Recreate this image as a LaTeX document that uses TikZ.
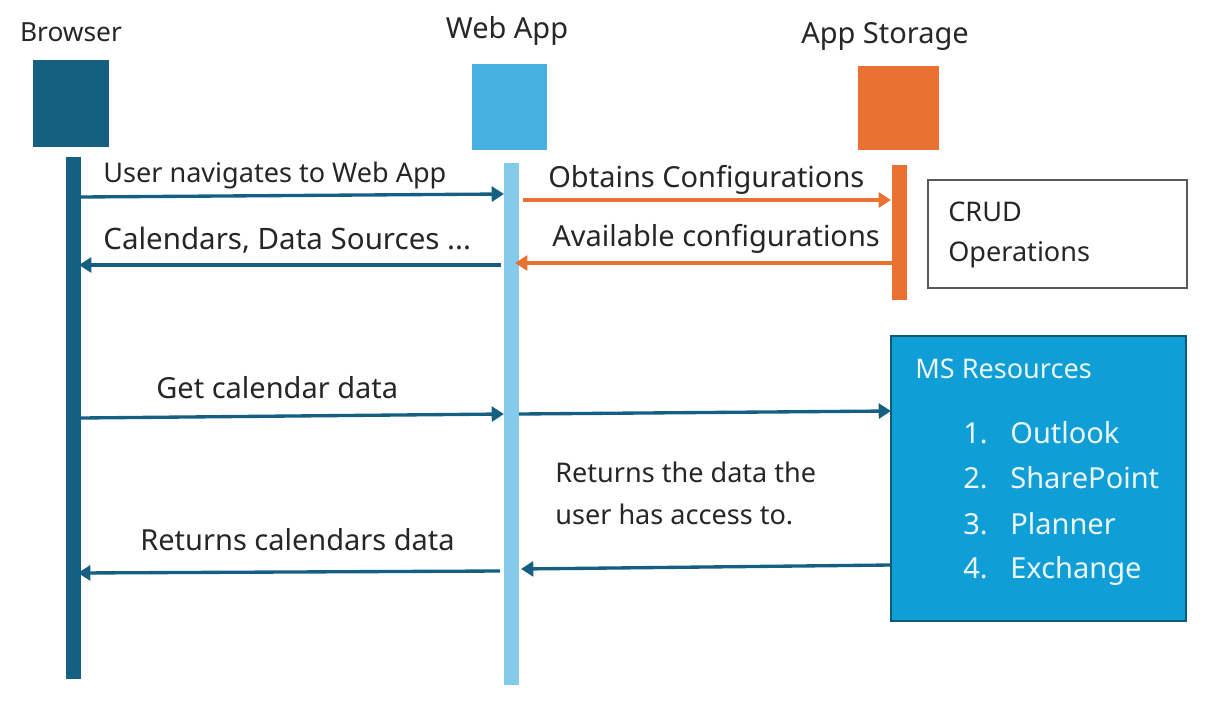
\documentclass[tikz,border=0pt]{standalone}
\usepackage{fontspec}
\setmainfont{Noto Sans}
\usepackage{tikz}
\usetikzlibrary{arrows.meta}
\definecolor{browserblue}{HTML}{156082}
\definecolor{webblue}{HTML}{45B0E1}
\definecolor{webbar}{HTML}{83CAEB}
\definecolor{storeorange}{HTML}{E97132}
\definecolor{msblue}{HTML}{0F9ED5}
\definecolor{msline}{HTML}{0B5A78}
\tikzset{
  head node/.style={draw=none, inner sep=0pt},
  bar node/.style={draw=none, inner sep=0pt, minimum width=0.3cm},
  label node/.style={inner sep=0pt, font=\fontsize{15.4}{18}\selectfont, text=black!85},
  big label/.style={label node, font=\fontsize{16.5}{19}\selectfont},
  ms node/.style={inner sep=0pt, font=\fontsize{16.5}{19}\selectfont, text=white!92!msblue, anchor=base west},
  blue arrow/.style={-{Triangle[length=7pt,width=8.5pt]}, line width=1.9pt, draw=browserblue},
  orange arrow/.style={-{Triangle[length=7pt,width=8.5pt]}, line width=2.1pt, draw=storeorange}
}
\begin{document}
\begin{tikzpicture}[x=0.02cm, y=-0.02cm]
  \useasboundingbox (0, 0) rectangle (1224, 710);
  % heads
  \node[head node, fill=browserblue, minimum width=1.52cm, minimum height=1.74cm] (browser) at (71, 103.5) {};
  \node[head node, fill=webblue, minimum width=1.5cm, minimum height=1.72cm] (webapp) at (509.5, 107) {};
  \node[head node, fill=storeorange, minimum width=1.62cm, minimum height=1.68cm] (storage) at (898.5, 108) {};
  \node[label node, font=\fontsize{15}{18}\selectfont] (browsertxt) at (71, 32) {Browser};
  \node[big label] (webtxt) at (507, 31) {Web App};
  \node[big label] (storagetxt) at (885, 36) {App Storage};
  % bars
  \node[bar node, fill=browserblue, minimum height=10.44cm] (browserbar) at (73.5, 418) {};
  \node[bar node, fill=webbar, minimum height=10.44cm] (webbar) at (511.5, 424) {};
  \node[bar node, fill=storeorange, minimum height=2.7cm] (storagebar) at (899.5, 232.5) {};
  % boxes
  \node[draw=black!65, line width=1.2pt, inner sep=0pt, minimum width=5.18cm, minimum height=2.16cm] (crud) at (1057.5, 234) {};
  \node[draw=msline, fill=msblue, line width=1.3pt, inner sep=0pt, minimum width=5.9cm, minimum height=5.7cm] (ms) at (1038.5, 478.5) {};
  \node[label node, anchor=west] (crudone) at (948, 212) {CRUD};
  \node[label node, anchor=west] (crudtwo) at (948, 255) {Operations};
  \node[ms node, font=\fontsize{15.4}{18}\selectfont] (mstitle) at (915, 378) {MS Resources};
  \node[ms node] (num1) at (963, 443) {1.};
  \node[ms node] (res1) at (1010, 443) {Outlook};
  \node[ms node] (num2) at (963, 488) {2.};
  \node[ms node] (res2) at (1010, 488) {SharePoint};
  \node[ms node] (num3) at (963, 534) {3.};
  \node[ms node] (res3) at (1010, 534) {Planner};
  \node[ms node] (num4) at (963, 578) {4.};
  \node[ms node] (res4) at (1010, 578) {Exchange};
  % arrow ends
  \coordinate (a1) at (81, 197);
  \coordinate (a2) at (504, 194);
  \coordinate (b1) at (501, 265);
  \coordinate (b2) at (79, 265);
  \coordinate (c1) at (523, 200);
  \coordinate (c2) at (891, 200);
  \coordinate (d1) at (892, 263);
  \coordinate (d2) at (515, 263);
  \coordinate (e1) at (81, 418);
  \coordinate (e2) at (504, 414);
  \coordinate (f1) at (519, 414);
  \coordinate (f2) at (891, 411);
  \coordinate (g1) at (500, 571);
  \coordinate (g2) at (78, 573);
  \coordinate (h1) at (891, 565);
  \coordinate (h2) at (521, 569);
  \draw[blue arrow] (a1) -- (a2);
  \draw[blue arrow] (b1) -- (b2);
  \draw[orange arrow] (c1) -- (c2);
  \draw[orange arrow] (d1) -- (d2);
  \draw[blue arrow] (e1) -- (e2);
  \draw[blue arrow] (f1) -- (f2);
  \draw[blue arrow] (g1) -- (g2);
  \draw[blue arrow] (h1) -- (h2);
  % labels
  \node[label node, anchor=west] (navtxt) at (103, 175) {User navigates to Web App};
  \node[big label, anchor=west, font=\fontsize{16.8}{19}\selectfont] (caltxt) at (103, 240) {Calendars, Data Sources ...};
  \node[big label, anchor=west] (obtxt) at (548, 180) {Obtains Configurations};
  \node[big label, anchor=west] (avtxt) at (552, 239) {Available configurations};
  \node[big label, anchor=west] (gettxt) at (156, 388) {Get calendar data};
  \node[label node, anchor=west] (rettxt) at (555, 472) {Returns the data the};
  \node[label node, anchor=west] (rettwo) at (555, 514) {user has access to.};
  \node[big label, anchor=west] (caldata) at (140, 540) {Returns calendars data};
\end{tikzpicture}
\end{document}
